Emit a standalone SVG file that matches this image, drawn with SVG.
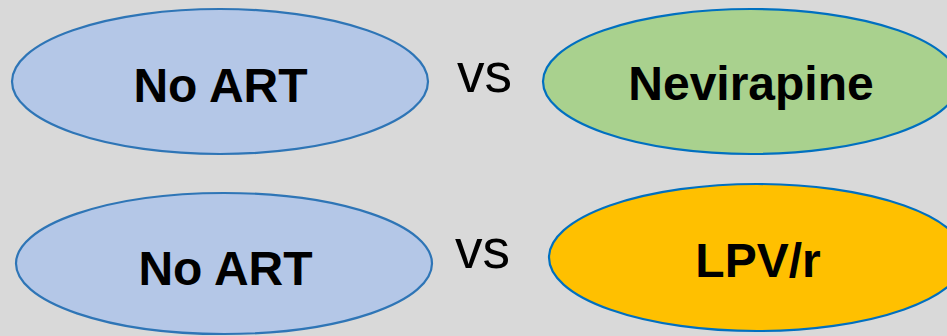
<svg xmlns="http://www.w3.org/2000/svg" width="947" height="336" viewBox="0 0 947 336">
<style>
.bg{fill:#d9d9d9}
.e{stroke-width:2.2}
.noart{fill:#b4c7e7;stroke:#2e75b6}
.nvp{fill:#a9d18e;stroke:#0070c0}
.lpv{fill:#ffc000;stroke:#0070c0}
.lbl{font-family:"Liberation Sans",Arial,sans-serif;font-weight:bold;font-size:48px;fill:#000;text-anchor:middle}
.vs{font-family:"Liberation Sans",Arial,sans-serif;font-size:55px;fill:#000;text-anchor:middle}
</style>
<rect class="bg" x="0" y="0" width="947" height="336"/>
<g id="noart1">
<ellipse class="e noart" cx="220" cy="81.5" rx="208" ry="72.5"/>
<text class="lbl" x="220.5" y="102">No ART</text>
</g>
<g id="nevirapine">
<ellipse class="e nvp" cx="751" cy="81.5" rx="208" ry="72.5"/>
<text class="lbl" x="751" y="100">Nevirapine</text>
</g>
<g id="noart2">
<ellipse class="e noart" cx="224" cy="263.5" rx="208" ry="70.5"/>
<text class="lbl" x="225.5" y="285">No ART</text>
</g>
<g id="lpvr">
<ellipse class="e lpv" cx="757" cy="257.5" rx="208" ry="73.5"/>
<text class="lbl" x="758" y="277">LPV/r</text>
</g>
<g id="vs1">
<text class="vs" x="484.5" y="92">vs</text>
</g>
<g id="vs2">
<text class="vs" x="482.5" y="268">vs</text>
</g>
</svg>
